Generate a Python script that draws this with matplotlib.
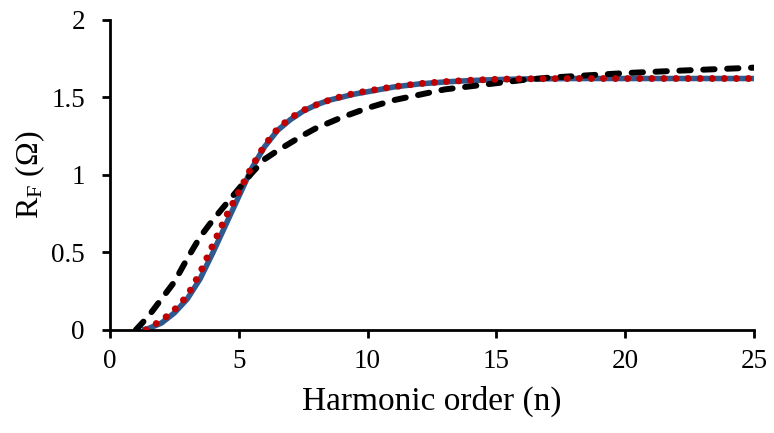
import numpy as np
import matplotlib
matplotlib.use("Agg")
import matplotlib.pyplot as plt

# values
blue_n = [1.25, 1.5, 2.0, 2.5, 3.0, 3.5, 4.0, 4.5, 5.0, 5.5, 6.0, 6.5, 7.0, 7.5, 8.0,
          8.5, 9.0, 9.5, 10, 11, 12, 13, 14, 15, 16, 18, 20, 25]
blue_rf = [0.0, 0.01, 0.045, 0.11, 0.20, 0.33, 0.50, 0.68, 0.86, 1.04, 1.18, 1.285, 1.355,
           1.41, 1.45, 1.48, 1.50, 1.52, 1.535, 1.565, 1.585, 1.598, 1.607, 1.613, 1.617,
           1.62, 1.62, 1.62]

red_n = [1.4, 1.5, 2.0, 2.5, 3.0, 3.5, 4.0, 4.5, 5.0, 5.5, 6.0, 6.5, 7.0, 7.5, 8.0,
         8.5, 9.0, 9.5, 10, 11, 12, 13, 14, 15, 16, 18, 20, 25]
red_rf = [0.0, 0.015, 0.06, 0.13, 0.22, 0.37, 0.55, 0.73, 0.89, 1.05, 1.19, 1.295, 1.365,
          1.415, 1.45, 1.48, 1.505, 1.525, 1.54, 1.567, 1.587, 1.60, 1.609, 1.615, 1.618,
          1.62, 1.62, 1.62]

black_n = [1.0, 1.5, 2.0, 2.5, 3.0, 3.5, 4.0, 4.5, 5.0, 5.5, 6.0, 6.5, 7.0, 7.5, 8.0,
           9.0, 10, 11, 12, 13, 14, 15, 16, 17, 18, 20, 22, 25]
black_rf = [0.0, 0.09, 0.20, 0.31, 0.46, 0.60, 0.71, 0.81, 0.91, 1.01, 1.10, 1.155, 1.205,
            1.255, 1.30, 1.37, 1.43, 1.48, 1.515, 1.55, 1.57, 1.59, 1.61, 1.625, 1.635,
            1.655, 1.67, 1.69]

x_ticks = [0, 5, 10, 15, 20, 25]
y_ticks = [0, 0.5, 1, 1.5, 2]
y_tick_labels = ['0', '0.5', '1', '1.5', '2']

plt.rcParams['font.family'] = ['Liberation Serif', 'DejaVu Serif']
plt.rcParams['mathtext.fontset'] = 'custom'
plt.rcParams['mathtext.rm'] = 'Liberation Serif'

fig = plt.figure(figsize=(7.74, 4.33), dpi=100)
ax = fig.add_axes([0.1421, 0.2379, 0.832, 0.717])

ax.plot(blue_n, blue_rf, color='#2E5A90', lw=4, solid_capstyle='butt', zorder=2)
ax.plot(black_n, black_rf, color='black', lw=4.3, linestyle=(0, (1.9, 2.1)),
        dash_capstyle='round', zorder=3)
ax.plot(red_n, red_rf, color='#C00000', lw=5, linestyle=(0, (0.01, 1.73)),
        dash_capstyle='round', zorder=4)

ax.set_xlim(0, 25)
ax.set_ylim(0, 2)
ax.set_xticks(x_ticks)
ax.set_yticks(y_ticks)
ax.set_xticklabels([str(t) for t in x_ticks])
ax.set_yticklabels(y_tick_labels)

for side in ['top', 'right']:
    ax.spines[side].set_visible(False)
for side in ['left', 'bottom']:
    ax.spines[side].set_linewidth(2)
    ax.spines[side].set_color('black')
ax.tick_params(direction='out', length=6, width=2, labelsize=19.5)
ax.tick_params(axis='x', pad=8)
ax.tick_params(axis='y', pad=12)

ax.set_xlabel('Harmonic order (n)', fontsize=24, labelpad=8)
ax.set_ylabel(r'$\mathrm{R_F}$ (Ω)', fontsize=23, labelpad=3)

fig.savefig('out.png', dpi=100)
